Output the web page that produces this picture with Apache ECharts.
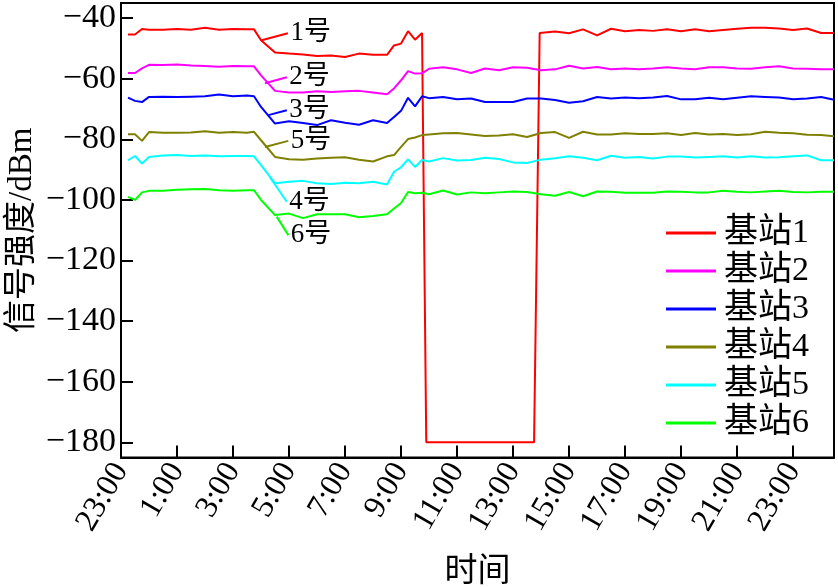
<!DOCTYPE html>
<html><head><meta charset="utf-8">
<script src="https://cdn.jsdelivr.net/npm/echarts@6/dist/echarts.min.js"></script>
<style>html,body{margin:0;padding:0;background:#fff}#c{width:838px;height:587px}</style>
</head><body><div id="c"></div>
<script>
// hours elapsed since 23:00
var hours = [0.25,0.5,0.75,1,1.5,2,2.5,3,3.5,4,4.5,4.75,5,5.5,6,6.5,7,7.5,8,8.5,9,9.5,9.75,10,10.25,10.5,10.75,10.9,11,11.5,12,12.5,13,13.5,14,14.5,14.75,14.95,15,15.5,16,16.5,17,17.5,18,18.5,19,19.5,20,20.5,21,21.5,22,22.5,23,23.5,24,24.5,25,25.46];
var names = ['基站1','基站2','基站3','基站4','基站5','基站6'];
var s1 = [-45.4,-45.4,-43.6,-43.8,-43.8,-43.6,-43.8,-43.2,-43.8,-43.6,-43.7,-43.7,-47.3,-51.3,-51.7,-52.0,-52.5,-52.3,-52.8,-51.7,-52.1,-52.1,-49.0,-48.4,-44.3,-47.1,-44.9,-180,-180,-180,-180,-180,-180,-180,-180,-180,-180,-44.9,-45.0,-44.4,-45.0,-43.7,-45.7,-43.5,-44.3,-43.9,-44.2,-43.7,-44.3,-43.7,-44.3,-43.9,-43.5,-43.2,-43.2,-43.4,-43.9,-43.4,-44.9,-44.9];
var s2 = [-58.1,-58.1,-56.6,-55.4,-55.5,-55.3,-55.6,-55.8,-56.0,-55.8,-55.9,-55.9,-58.9,-64.0,-64.5,-64.5,-64.1,-64.4,-64.1,-64.0,-64.5,-65.1,-63.2,-60.5,-57.5,-58.3,-58.2,null,-56.7,-56.2,-56.9,-58.1,-56.6,-57.2,-56.2,-56.4,null,null,-57.2,-56.9,-55.7,-56.6,-56.1,-56.9,-56.6,-56.9,-56.6,-56.2,-56.6,-56.9,-56.2,-56.2,-56.6,-56.7,-56.2,-55.9,-56.6,-56.7,-56.9,-56.9];
var s3 = [-66.2,-67.3,-67.7,-66.0,-65.9,-66.0,-65.9,-65.8,-65.2,-65.8,-65.5,-65.8,-69.3,-74.8,-74.0,-74.6,-75.3,-73.7,-74.5,-75.2,-73.7,-74.6,-72.6,-70.6,-66.3,-69.1,-65.8,null,-66.4,-66.0,-66.8,-66.5,-67.7,-67.7,-67.7,-66.5,null,null,-66.5,-67.0,-67.9,-67.4,-66.0,-66.5,-66.2,-66.4,-66.2,-65.7,-66.8,-66.8,-66.3,-66.8,-66.3,-65.8,-66.0,-66.2,-66.8,-66.5,-66.0,-66.9];
var s4 = [-78.3,-78.3,-80.5,-77.6,-77.8,-77.8,-77.7,-77.3,-77.8,-77.6,-77.8,-77.5,-80.3,-85.8,-86.6,-86.7,-86.3,-86.1,-85.9,-86.7,-87.3,-85.6,-85.2,-82.5,-79.9,-79.4,-78.6,null,-78.4,-78.0,-77.9,-78.4,-78.9,-78.7,-78.3,-79.2,null,null,-77.9,-77.6,-79.5,-77.5,-78.4,-78.4,-78.0,-78.2,-78.2,-78.0,-78.6,-77.9,-78.4,-78.2,-78.6,-78.3,-77.5,-77.8,-78.0,-78.5,-78.6,-79.0];
var s5 = [-86.9,-85.5,-88.0,-85.8,-85.3,-85.2,-85.5,-85.3,-85.6,-85.5,-85.5,-85.6,-88.5,-94.5,-94.0,-93.7,-94.5,-94.7,-94.3,-94.5,-94.0,-94.9,-90.7,-89.2,-86.6,-89.1,-86.8,null,-87.3,-86.2,-87.0,-86.8,-86.1,-86.5,-87.6,-87.8,null,null,-86.7,-86.2,-85.6,-86.1,-86.9,-85.4,-86.1,-85.8,-86.3,-85.7,-85.7,-86.0,-85.8,-85.6,-86.0,-85.6,-86.0,-85.9,-85.6,-85.3,-86.9,-86.9];
var s6 = [-99.0,-100.0,-97.5,-97.0,-97.0,-96.6,-96.5,-96.4,-96.8,-97.0,-96.8,-96.8,-100.0,-105.0,-104.5,-106.0,-104.7,-104.7,-104.7,-105.7,-105.3,-104.7,-102.8,-101.0,-97.4,-97.8,-97.6,null,-98.1,-96.9,-98.2,-97.5,-97.8,-97.5,-97.2,-97.4,null,null,-98.1,-98.6,-97.4,-98.8,-97.2,-97.3,-97.6,-97.6,-97.6,-97.2,-97.3,-97.5,-97.5,-97.0,-97.3,-97.5,-97.2,-97.0,-97.4,-97.5,-97.3,-97.3];
var yTicks = [-180,-160,-140,-120,-100,-80,-60,-40];
var xTicks = [0,2,4,6,8,10,12,14,16,18,20,22,24];
// annotation labels and their leader lines [from, to] in (hours, dBm)
var tags = ['1号','2号','3号','5号','4号','6号'];
var leaders = [
  [[5.02,-47.3],[5.96,-45.0]],
  [[5.14,-61.5],[5.92,-59.5]],
  [[5.26,-72.0],[5.92,-70.4]],
  [[5.14,-82.5],[5.975,-80.5]],
  [[5.32,-92.5],[5.92,-100.6]],
  [[5.56,-105.5],[5.975,-111.6]]
];
var colors = ['#ff0000','#ff00ff','#0000ff','#808000','#00ffff','#00ff00'];

var FONT = '"Liberation Serif","Times New Roman","Noto Sans CJK SC",serif';
var allS = [s1,s2,s3,s4,s5,s6];
var series = allS.map(function(s, i){
  return {
    name: names[i], type: 'line', showSymbol: false, connectNulls: true,
    data: hours.map(function(h, k){ return [h, s[k]]; }),
    lineStyle: {color: colors[i], width: 2}, itemStyle: {color: colors[i]},
    emphasis: {disabled: true}, animation: false,
    markLine: {silent: true, symbol: ['none','none'], animation: false,
      lineStyle: {color: colors[i], width: 2, type: 'solid'}, label: {show: false},
      data: [[{coord: leaders[i][0]}, {coord: leaders[i][1]}]]},
    markPoint: {silent: true, animation: false, symbol: 'circle', symbolSize: 1,
      itemStyle: {color: 'rgba(0,0,0,0)'},
      data: [{coord: leaders[i][1], label: {show: true, position: 'right', distance: 2,
        formatter: tags[i], color: '#000', fontSize: 27, fontFamily: FONT}}]}
  };
});

var chart = echarts.init(document.getElementById('c'), null, {renderer: 'canvas'});
chart.setOption({
  animation: false,
  backgroundColor: '#fff',
  grid: {left: 121, top: 3, right: 4, bottom: 129.5, containLabel: false, outerBoundsMode: 'none',
    show: true, borderColor: '#000', borderWidth: 2, backgroundColor: 'transparent'},
  legend: {orient: 'vertical', left: 661, top: 211, itemWidth: 50, itemHeight: 3, itemGap: 4, icon: 'rect',
    itemStyle: {borderWidth: 0}, textStyle: {fontSize: 34, fontFamily: FONT, color: '#000', padding: [0,0,0,3]},
    data: names, selectedMode: false},
  xAxis: {type: 'value', min: 0, max: 25.46,
    name: '时间', nameLocation: 'middle', nameGap: 98, nameMoveOverlap: false,
    nameTextStyle: {fontSize: 33, fontFamily: FONT, color: '#000'},
    axisLine: {lineStyle: {color: '#000', width: 2}},
    axisTick: {inside: true, length: 12, lineStyle: {color: '#000', width: 2}, customValues: xTicks},
    axisLabel: {rotate: 60, fontSize: 32, fontFamily: FONT, color: '#000', margin: 8, customValues: xTicks,
      formatter: function(v){ return ((23 + v) % 24) + ':00'; }},
    splitLine: {show: false}},
  yAxis: {type: 'value', min: -185, max: -35,
    name: '信号强度/dBm', nameLocation: 'middle', nameGap: 82, nameRotate: 90, nameMoveOverlap: false,
    nameTextStyle: {fontSize: 33, fontFamily: FONT, color: '#000'},
    axisLine: {show: true, lineStyle: {color: '#000', width: 2}},
    axisTick: {show: true, inside: true, length: 12, lineStyle: {color: '#000', width: 2}, customValues: yTicks},
    axisLabel: {fontSize: 34, fontFamily: FONT, color: '#000', margin: 5, customValues: yTicks,
      formatter: function(v){ return v < 0 ? '\u2212' + Math.abs(v) : String(v); }},
    splitLine: {show: false}},
  series: series
});
</script></body></html>
